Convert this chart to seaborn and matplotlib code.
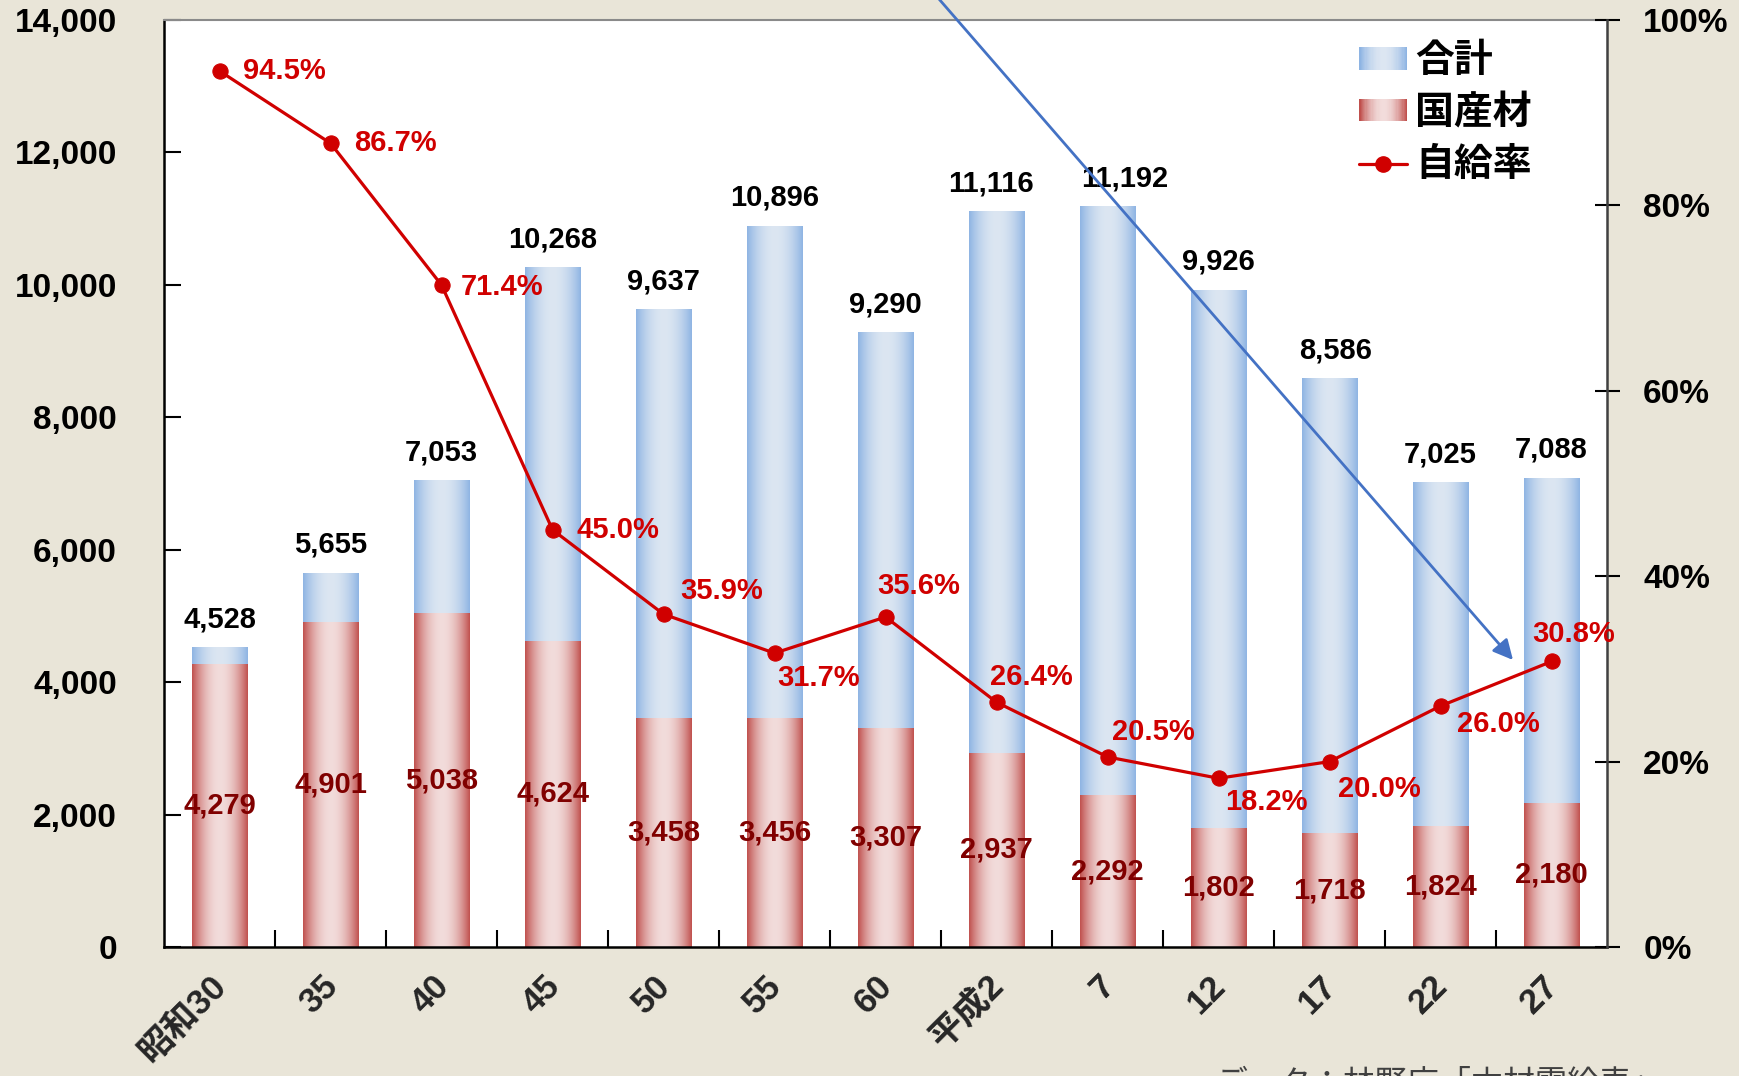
import numpy as np
import pandas as pd
import matplotlib
matplotlib.use("Agg")
import matplotlib.pyplot as plt
import matplotlib.transforms as mtransforms
import seaborn as sns
from matplotlib.patches import Rectangle
from matplotlib.legend_handler import HandlerBase
from matplotlib.lines import Line2D
from matplotlib.ticker import FixedLocator, FuncFormatter

# ---- data (thousand m3, %) ----
years = ["昭和30", "35", "40", "45", "50", "55", "60", "平成2", "7", "12", "17", "22", "27"]
total = [4528, 5655, 7053, 10268, 9637, 10896, 9290, 11116, 11192, 9926, 8586, 7025, 7088]
domestic = [4279, 4901, 5038, 4624, 3458, 3456, 3307, 2937, 2292, 1802, 1718, 1824, 2180]
rate = [94.5, 86.7, 71.4, 45.0, 35.9, 31.7, 35.6, 26.4, 20.5, 18.2, 20.0, 26.0, 30.8]

# label placement (points) for the rate labels and the total labels
rate_offsets = [(17, 0), (17, 0), (14, -1), (17, 0), (12, 17), (2, -18), (-6, 22),
                (-5, 18), (3, 18), (5, -17), (6, -20), (12, -13), (-14, 20)]
total_dx = [0, 0, 0, 0, 0, 0, 0, -4, 12, 0, 4, 0, 0]

BG = "#E9E5D8"
BLUE_EDGE, BLUE_MID = "#8EB4E3", "#DCE6F2"
RED_EDGE, RED_MID = "#C0504D", "#F2DCDB"
LINE_RED = "#D00000"
DARK_RED = "#800000"
NUM_FONT = ["Liberation Sans", "Noto Sans CJK JP"]
JP_FONT = ["Noto Sans CJK JP", "DejaVu Sans"]

sns.set_theme(style="white")
plt.rcParams["font.family"] = NUM_FONT

df = pd.DataFrame({"year": years, "total": total, "domestic": domestic, "rate": rate})

fig = plt.figure(figsize=(17.4, 10.76), dpi=100, facecolor=BG)
ax = fig.add_axes([0.0943, 0.1199, 0.8293, 0.8615])
ax.set_facecolor("white")


def mix(c1, c2, t):
    a = np.array(matplotlib.colors.to_rgb(c1))
    b = np.array(matplotlib.colors.to_rgb(c2))
    return a + (b - a) * t


def profile(n=256):
    t = np.linspace(0, 1, n)
    return 1 - np.abs(2 * t - 1) ** 2


def gradient_bars(patches, edge, mid):
    p = profile()
    img = np.array([mix(edge, mid, v) for v in p])[np.newaxis, :, :]
    for patch in patches:
        x, y = patch.get_xy()
        w, h = patch.get_width(), patch.get_height()
        im = ax.imshow(img, extent=[x, x + w, y, y + h], aspect="auto",
                       interpolation="bilinear", zorder=patch.get_zorder())
        im.set_clip_path(patch)
        patch.set_facecolor("none")
        patch.set_edgecolor("none")


sns.barplot(data=df, x="year", y="total", order=years, color=BLUE_MID,
            width=0.5, saturation=1, errorbar=None, ax=ax)
n_total = len(ax.patches)
sns.barplot(data=df, x="year", y="domestic", order=years, color=RED_MID,
            width=0.5, saturation=1, errorbar=None, ax=ax)
total_patches = ax.patches[:n_total]
dom_patches = ax.patches[n_total:]
gradient_bars(total_patches, BLUE_EDGE, BLUE_MID)
gradient_bars(dom_patches, RED_EDGE, RED_MID)

xs = np.arange(len(years))

# value labels on the bars
for i in xs:
    ax.annotate(f"{total[i]:,}", xy=(i, total[i]), xytext=(total_dx[i], 20),
                textcoords="offset points", ha="center", va="center",
                fontsize=21, fontweight="bold", color="black", zorder=5)
    ax.text(i, domestic[i] / 2, f"{domestic[i]:,}", ha="center", va="center",
            fontsize=21, fontweight="bold", color=DARK_RED, zorder=5)

ax.set_xlim(-0.5, len(years) - 0.5)
ax.set_ylim(0, 14000)
ax.set_xlabel("")
ax.set_ylabel("")

# left axis
ax.yaxis.set_major_locator(FixedLocator(np.arange(0, 14001, 2000)))
ax.yaxis.set_major_formatter(FuncFormatter(lambda v, _: f"{int(v):,}"))
ax.tick_params(axis="y", direction="in", length=12, width=1.5, pad=34,
               labelsize=24, colors="black", left=True)
for lab in ax.get_yticklabels():
    lab.set_fontweight("bold")

# x axis: labels at bars, tick marks between bars
ax.set_xticks(xs)
ax.set_xticklabels(years, rotation=45, ha="right", rotation_mode="anchor",
                   fontsize=25, fontweight="bold")
ax.tick_params(axis="x", which="major", length=0, pad=16)
shift = mtransforms.ScaledTranslation(-7 / 72, 0, fig.dpi_scale_trans)
for lab in ax.get_xticklabels():
    lab.set_transform(lab.get_transform() + shift)
ax.set_xticks(np.arange(0.5, len(years) - 1, 1.0), minor=True)
ax.tick_params(axis="x", which="minor", direction="in", length=12, width=1.5,
               bottom=True, color="black")

for s in ["left", "bottom"]:
    ax.spines[s].set_color("black")
    ax.spines[s].set_linewidth(1.8)
ax.spines["top"].set_color("#8A8A8A")
ax.spines["top"].set_linewidth(1.5)
ax.spines["right"].set_visible(False)

# right axis: self-sufficiency rate
ax2 = ax.twinx()
sns.lineplot(x=xs, y=rate, ax=ax2, color=LINE_RED, marker="o", markersize=11,
             markeredgecolor=LINE_RED, linewidth=2.3, legend=False, zorder=6)
ax2.set_ylim(0, 100)
ax2.set_xlim(-0.5, len(years) - 0.5)
ax2.set_ylabel("")
ax2.yaxis.set_major_locator(FixedLocator(np.arange(0, 101, 20)))
ax2.yaxis.set_major_formatter(FuncFormatter(lambda v, _: f"{int(v)}%"))
ax2.tick_params(axis="y", direction="inout", length=18, width=1.5, pad=17,
                labelsize=24, colors="black", right=True)
for lab in ax2.get_yticklabels():
    lab.set_fontweight("bold")
for s in ["left", "top", "bottom"]:
    ax2.spines[s].set_visible(False)
ax2.spines["right"].set_visible(True)
ax2.spines["right"].set_color("#404040")
ax2.spines["right"].set_linewidth(1.8)

for i in xs:
    ax2.annotate(f"{rate[i]:.1f}%", xy=(i, rate[i]), xytext=rate_offsets[i],
                 textcoords="offset points", ha="left", va="center",
                 fontsize=21, fontweight="bold", color=LINE_RED, zorder=7)


# legend with gradient swatches
class GradientHandler(HandlerBase):
    def __init__(self, edge, mid, **kw):
        super().__init__(**kw)
        self.edge, self.mid = edge, mid

    def create_artists(self, legend, orig_handle, xdescent, ydescent,
                       width, height, fontsize, trans):
        n = 40
        p = profile(n)
        arts = []
        for k in range(n):
            r = Rectangle((-xdescent + k * width / n, -ydescent),
                          width / n * 1.1, height,
                          facecolor=mix(self.edge, self.mid, p[k]),
                          edgecolor="none", linewidth=0, transform=trans)
            arts.append(r)
        return arts


h_total = Rectangle((0, 0), 1, 1)
h_dom = Rectangle((0, 0), 1, 1)
h_rate = Line2D([], [], color=LINE_RED, marker="o", markersize=11, linewidth=2.3)
leg = ax2.legend([h_total, h_dom, h_rate], ["合計", "国産材", "自給率"],
                 handler_map={h_total: GradientHandler(BLUE_EDGE, BLUE_MID),
                              h_dom: GradientHandler(RED_EDGE, RED_MID)},
                 loc="upper left", bbox_to_anchor=(0.8149, 0.998), frameon=False,
                 prop={"family": JP_FONT, "size": 28, "weight": "bold"},
                 handlelength=1.23, handleheight=0.5, handletextpad=0.2,
                 labelspacing=0.33, borderaxespad=0.1)
for t in leg.get_texts():
    t.set_color("black")

# callout arrow
ax2.annotate("", xy=(1513, 1076 - 660), xycoords="figure pixels",
             xytext=(919, 1100), textcoords="figure pixels",
             arrowprops=dict(arrowstyle="-|>,head_length=0.6,head_width=0.3",
                             color="#4472C4", lw=2, mutation_scale=20,
                             shrinkA=0, shrinkB=0),
             annotation_clip=False, zorder=10)

# source note
fig.text(1215 / 1740, 1 - 1068 / 1076, "データ：林野庁「木材需給表」",
         ha="left", va="top", fontsize=23, color="#404040", family=JP_FONT)

fig.savefig("out.png", dpi=100, facecolor=BG)
